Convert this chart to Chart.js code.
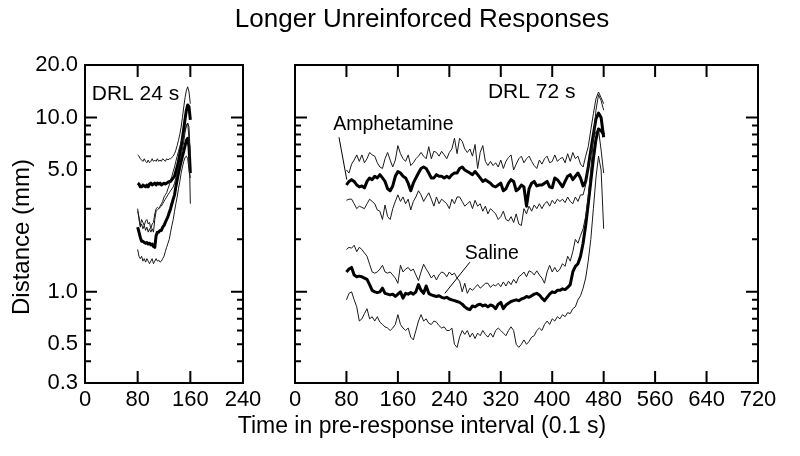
<!DOCTYPE html>
<html><head><meta charset="utf-8">
<script src="https://cdn.jsdelivr.net/npm/chart.js@4.4.1/dist/chart.umd.min.js"></script>
<style>
html,body{margin:0;padding:0;background:#fff;}
#wrap{position:relative;width:800px;height:456px;overflow:hidden;font-family:"Liberation Sans",Arial,sans-serif;color:#000;}
canvas{position:absolute;top:0;}
.txt{position:absolute;white-space:nowrap;line-height:1;text-align:center;}
</style></head><body>
<div id="wrap">
<canvas id="c1" width="290" height="456" style="left:0;width:290px;height:456px"></canvas>
<canvas id="c2" width="550" height="456" style="left:250px;width:550px;height:456px"></canvas>
<div class="txt" style="left:22px;top:5px;width:800px;font-size:26px;">Longer Unreinforced Responses</div>
<div class="txt" style="left:22px;top:414px;width:800px;font-size:23px;">Time in pre-response interval (0.1 s)</div>
<div class="txt" style="left:-129px;top:225px;width:300px;font-size:24px;transform:rotate(-90deg);">Distance (mm)</div>
</div>
<script>
// ---- time axes (0.1 s units) ----
const leftStart = 80, leftStep = 2;    // DRL 24 s panel
const rightStart = 80, rightStep = 4;  // DRL 72 s panel

// ---- tick values ----
const yLabelTicks = [0.3, 0.5, 1, 5, 10, 20];
const yMajorTicks = [1, 10];
const yMinorTicks = [0.4,0.5,0.6,0.7,0.8,0.9,2,3,4,5,6,7,8,9];
const leftXTicks = [80, 160];
const rightXTicks = [80,160,240,320,400,480,560,640];

// ---- DRL 24 s series (mm) ----
const leftAmphMean = [4.2,4.15,4.0,4.0,4.1,4.05,4.0,4.1,4.0,4.15,
 4.2,4.1,4.15,4.2,4.1,4.2,4.15,4.2,4.1,4.15,
 4.2,4.15,4.2,4.25,4.3,4.3,4.4,4.5,4.6,4.9,
 5.2,5.6,6.2,6.8,7.6,8.6,9.8,11.0,11.8,11.5,
 9.7];
const leftAmphUpper = [6.1,6.0,5.8,5.7,5.6,5.8,5.6,5.5,5.7,5.5,
 5.6,5.8,5.6,5.7,5.6,5.8,5.6,5.7,5.6,5.8,
 5.7,5.6,5.8,5.7,5.8,5.8,5.9,6.0,6.2,6.5,
 6.9,7.4,8.0,8.8,10.0,11.5,13.0,14.3,15.0,14.0,
 12.0];
const leftAmphLower = [3.0,2.6,2.35,2.45,2.3,2.4,2.25,2.35,2.2,2.3,
 2.2,2.3,2.2,2.6,2.9,2.95,3.0,3.05,3.1,3.2,
 3.3,3.4,3.5,3.6,3.7,3.8,3.9,4.0,4.2,4.5,
 4.8,5.2,5.6,6.0,6.6,7.3,8.2,9.0,9.3,7.5,
 3.2];
const leftSalMean = [2.35,2.2,2.05,1.95,1.95,1.92,1.9,1.92,1.88,1.9,
 1.86,1.88,1.82,1.8,2.1,2.2,2.2,2.25,2.25,2.35,
 2.4,2.5,2.6,2.7,2.85,3.0,3.2,3.4,3.6,4.0,
 4.4,4.8,5.2,5.6,6.0,6.4,6.9,7.4,7.6,6.8,
 4.8];
const leftSalUpper = [2.9,2.7,2.4,2.6,2.5,2.4,2.55,2.6,2.45,2.5,
 2.3,2.45,2.5,2.8,3.0,3.05,3.0,3.1,3.2,3.3,
 3.5,3.6,3.7,3.9,4.1,4.4,4.6,4.9,5.2,5.6,
 6.0,6.4,6.8,7.2,7.6,8.0,8.5,9.0,9.3,8.8,
 6.0];
const leftSalLower = [1.75,1.6,1.55,1.6,1.5,1.55,1.48,1.55,1.5,1.45,
 1.5,1.55,1.45,1.5,1.55,1.5,1.52,1.48,1.5,1.55,
 1.6,1.7,1.8,1.9,2.0,2.2,2.4,2.6,2.9,3.2,
 3.5,3.9,4.3,4.8,5.2,5.6,5.9,6.0,5.8,5.0,
 4.5];

// ---- DRL 72 s series (mm) ----
const rightAmphMean = [4.1,4.3,4.4,4.3,4.1,4.0,4.05,3.95,4.3,4.5,
 4.4,4.6,4.5,4.7,4.5,4.3,3.9,3.8,4.05,4.6,
 4.9,4.8,4.6,4.5,4.2,3.8,4.2,4.5,4.8,5.1,
 5.2,5.1,4.8,4.5,4.5,4.7,4.6,4.6,4.5,4.6,
 4.5,4.7,4.8,4.8,5.1,5.2,5.0,4.9,4.8,4.7,
 4.9,4.7,4.5,4.3,4.4,4.3,4.2,4.05,4.0,4.1,
 4.2,3.8,3.9,4.2,4.4,4.3,3.8,3.9,4.1,4.0,
 3.1,3.9,4.2,4.3,4.05,4.1,4.1,4.2,4.3,4.0,
 3.95,4.5,4.4,4.2,4.0,4.3,4.6,4.7,4.4,4.6,
 4.8,4.5,4.05,4.3,5.2,6.5,8.0,9.8,10.6,10.0,
 7.7];
const rightAmphUpper = [5.0,4.8,5.4,5.7,6.1,5.6,6.1,5.5,5.8,6.3,
 6.1,6.0,5.5,5.2,5.1,5.8,6.3,5.7,5.2,5.7,
 6.9,6.2,5.8,5.6,6.1,5.3,5.5,5.8,6.0,6.3,
 6.0,5.8,6.8,5.8,6.4,6.3,6.0,6.4,6.1,5.8,
 6.3,6.6,7.6,6.2,7.6,7.3,6.6,6.3,6.6,6.0,
 7.0,5.1,6.3,6.9,5.6,5.3,5.6,5.3,5.5,5.2,
 5.7,5.1,5.6,5.9,6.1,5.0,5.4,5.8,6.0,5.5,
 5.8,6.0,5.6,5.3,5.1,5.7,5.4,5.8,6.0,5.5,
 5.6,6.1,5.6,5.8,5.9,5.5,6.2,5.6,6.3,5.8,
 6.0,5.4,5.2,6.0,6.8,8.5,10.5,12.8,14.0,13.0,
 12.0];
const rightAmphLower = [3.35,3.4,3.4,3.2,3.0,3.1,3.05,3.0,3.2,3.4,
 3.3,3.2,2.95,2.9,2.6,3.15,2.7,2.6,3.0,3.3,
 3.6,3.3,3.5,3.2,3.4,2.95,3.3,3.5,3.8,3.6,
 3.3,3.5,3.7,3.4,3.1,3.5,3.2,3.4,3.3,3.2,
 3.0,3.4,3.2,3.5,3.5,3.3,3.1,3.2,3.3,3.0,
 3.35,3.1,3.2,2.9,3.1,2.8,3.0,2.9,2.8,2.6,
 2.7,2.9,2.6,2.55,2.7,2.5,2.8,2.45,2.4,3.0,
 2.8,3.1,2.9,3.15,3.0,3.2,3.0,3.2,3.3,3.1,
 3.35,3.2,3.4,3.3,3.4,3.25,3.5,3.3,3.2,3.5,
 3.3,3.6,3.6,4.1,5.2,6.2,7.5,8.3,8.5,6.5,
 4.8];
const rightSalMean = [1.3,1.35,1.38,1.25,1.22,1.23,1.22,1.2,1.18,1.1,
 1.02,1.0,0.99,1.0,1.05,0.98,0.97,0.96,0.97,0.94,
 0.97,1.0,0.92,0.98,0.97,0.99,0.97,1.0,1.1,1.02,
 0.98,1.08,0.98,0.96,0.95,0.94,0.95,0.93,0.92,0.93,
 0.91,0.9,0.89,0.88,0.87,0.85,0.82,0.8,0.79,0.83,
 0.82,0.84,0.85,0.83,0.84,0.82,0.84,0.83,0.8,0.85,
 0.87,0.8,0.84,0.86,0.88,0.89,0.9,0.89,0.91,0.92,
 0.94,0.93,0.95,0.97,0.98,0.96,0.92,0.89,0.93,0.97,
 1.0,0.99,1.02,1.02,1.04,1.03,1.06,1.1,1.3,1.4,
 1.45,1.6,1.9,2.4,3.2,4.3,5.8,7.5,8.6,8.4,
 8.0];
const rightSalUpper = [1.75,1.8,1.78,1.85,1.7,1.8,1.75,1.67,1.6,1.44,
 1.3,1.28,1.3,1.35,1.42,1.3,1.28,1.3,1.25,1.2,
 1.12,1.42,1.3,1.35,1.38,1.32,1.35,1.25,1.16,1.3,
 1.44,1.35,1.28,1.2,1.25,1.17,1.25,1.3,1.28,1.22,
 1.3,1.25,1.28,1.2,1.15,1.0,1.12,0.98,1.05,1.02,
 1.06,1.1,1.05,1.08,1.12,1.12,1.06,1.1,1.08,1.12,
 1.07,1.14,1.08,1.15,1.1,1.18,1.12,1.22,1.25,1.3,
 1.22,1.32,1.3,1.25,1.32,1.25,1.2,1.12,1.3,1.42,
 1.3,1.38,1.3,1.35,1.45,1.4,1.6,1.5,1.7,2.0,
 1.9,2.1,2.3,2.7,3.5,5.0,7.5,11.0,13.5,12.5,
 11.0];
const rightSalLower = [0.9,0.98,1.0,0.9,0.82,0.68,0.7,0.75,0.8,0.7,
 0.72,0.68,0.72,0.67,0.65,0.63,0.62,0.6,0.62,0.65,
 0.74,0.65,0.62,0.6,0.62,0.55,0.53,0.6,0.68,0.74,
 0.68,0.7,0.66,0.65,0.68,0.67,0.64,0.62,0.63,0.6,
 0.6,0.62,0.5,0.48,0.55,0.6,0.57,0.6,0.55,0.58,
 0.54,0.58,0.56,0.6,0.57,0.55,0.58,0.55,0.6,0.62,
 0.6,0.58,0.56,0.6,0.63,0.6,0.5,0.48,0.5,0.53,
 0.5,0.52,0.55,0.56,0.6,0.62,0.6,0.65,0.68,0.65,
 0.7,0.68,0.72,0.7,0.74,0.72,0.76,0.75,0.8,0.82,
 0.9,0.95,1.05,1.2,1.5,2.0,3.0,4.5,6.0,5.0,
 2.3];

// ---- annotations (data coordinates) ----
const leftTexts = [{text:'DRL 24 s', t:10.2, v:12.6, align:'left', size:21}];
const rightTexts = [
  {text:'DRL 72 s', t:368, v:12.9, align:'center', size:21},
  {text:'Amphetamine', t:153, v:8.47, align:'center', size:19.5},
  {text:'Saline', t:306, v:1.54, align:'center', size:19.5}
];
const rightLeaders = [
  {t1:68.4, v1:7.7, t2:80.5, v2:4.4},
  {t1:272, v1:1.48, t2:233, v2:0.98}
];

const FONT = '"Liberation Sans", Arial, sans-serif';

function toPoints(start, step, arr){
  return arr.map((v,i)=>({x:start+i*step, y:v}));
}

const framePlugin = {
  id:'frame',
  afterDatasetsDraw(chart, args, opts){
    const ctx = chart.ctx, a = chart.chartArea, xs = chart.scales.x, ys = chart.scales.y;
    ctx.save();
    ctx.strokeStyle = '#000';
    ctx.lineWidth = 2;
    ctx.beginPath();
    yMinorTicks.concat(yMajorTicks).forEach(v=>{
      const py = ys.getPixelForValue(v);
      const len = yMajorTicks.includes(v) ? 12 : 6;
      ctx.moveTo(a.left, py); ctx.lineTo(a.left+len, py);
      ctx.moveTo(a.right, py); ctx.lineTo(a.right-len, py);
    });
    opts.xTicks.forEach(t=>{
      const px = xs.getPixelForValue(t);
      ctx.moveTo(px, a.top); ctx.lineTo(px, a.top+12);
      ctx.moveTo(px, a.bottom); ctx.lineTo(px, a.bottom-12);
    });
    ctx.stroke();
    ctx.lineWidth = 2;
    ctx.strokeRect(a.left, a.top, a.right-a.left, a.bottom-a.top);
    ctx.lineWidth = 1;
    (opts.leaders||[]).forEach(l=>{
      ctx.beginPath();
      ctx.moveTo(xs.getPixelForValue(l.t1), ys.getPixelForValue(l.v1));
      ctx.lineTo(xs.getPixelForValue(l.t2), ys.getPixelForValue(l.v2));
      ctx.stroke();
    });
    ctx.fillStyle = '#000';
    ctx.textBaseline = 'alphabetic';
    (opts.texts||[]).forEach(tx=>{
      ctx.font = tx.size + 'px ' + FONT;
      ctx.textAlign = tx.align;
      ctx.fillText(tx.text, xs.getPixelForValue(tx.t), ys.getPixelForValue(tx.v));
    });
    ctx.restore();
  }
};

function ds(points, thick){
  return {data: points, borderColor: thick ? '#000' : '#1a1a1a', borderWidth: thick ? 3 : 1,
          pointRadius: 0, tension: 0, fill: false, borderJoinStyle: 'round'};
}

function makeChart(id, cfg){
  return new Chart(document.getElementById(id), {
    type: 'line',
    data: {datasets: cfg.datasets},
    options: {
      responsive: false, animation: false, devicePixelRatio: 1, events: [],
      layout: {padding: {top: 65, right: cfg.padRight, left: 0, bottom: 0}},
      plugins: {legend: {display: false}, tooltip: {enabled: false}, title: {display: false},
                frame: {xTicks: cfg.xTicks, texts: cfg.texts, leaders: cfg.leaders}},
      scales: {
        x: {type: 'linear', min: 0, max: cfg.xMax,
            grid: {display: false, drawTicks: false}, border: {display: false},
            ticks: {stepSize: 80, font: {size: 22, family: FONT}, color: '#000', padding: 4, maxRotation: 0, autoSkip: false},
            afterFit: s => { s.height = 73; }},
        y: {type: 'logarithmic', min: 0.3, max: 20,
            grid: {display: false, drawTicks: false}, border: {display: false},
            afterBuildTicks: s => { s.ticks = yLabelTicks.map(v => ({value: v})); },
            ticks: {display: cfg.showY, font: {size: 22, family: FONT}, color: '#000', padding: 7,
                    callback: v => Number(v).toFixed(1)},
            afterFit: s => { s.width = cfg.yWidth; }}
      }
    },
    plugins: [framePlugin]
  });
}

makeChart('c1', {
  xMax: 240, padRight: 47, yWidth: 85, showY: true, xTicks: leftXTicks,
  texts: leftTexts, leaders: [],
  datasets: [
    ds(toPoints(leftStart, leftStep, leftAmphUpper), false),
    ds(toPoints(leftStart, leftStep, leftAmphLower), false),
    ds(toPoints(leftStart, leftStep, leftSalUpper), false),
    ds(toPoints(leftStart, leftStep, leftSalLower), false),
    ds(toPoints(leftStart, leftStep, leftAmphMean), true),
    ds(toPoints(leftStart, leftStep, leftSalMean), true)
  ]
});

makeChart('c2', {
  xMax: 720, padRight: 42, yWidth: 45, showY: false, xTicks: rightXTicks,
  texts: rightTexts, leaders: rightLeaders,
  datasets: [
    ds(toPoints(rightStart, rightStep, rightAmphUpper), false),
    ds(toPoints(rightStart, rightStep, rightAmphLower), false),
    ds(toPoints(rightStart, rightStep, rightSalUpper), false),
    ds(toPoints(rightStart, rightStep, rightSalLower), false),
    ds(toPoints(rightStart, rightStep, rightAmphMean), true),
    ds(toPoints(rightStart, rightStep, rightSalMean), true)
  ]
});
</script>
</body></html>
